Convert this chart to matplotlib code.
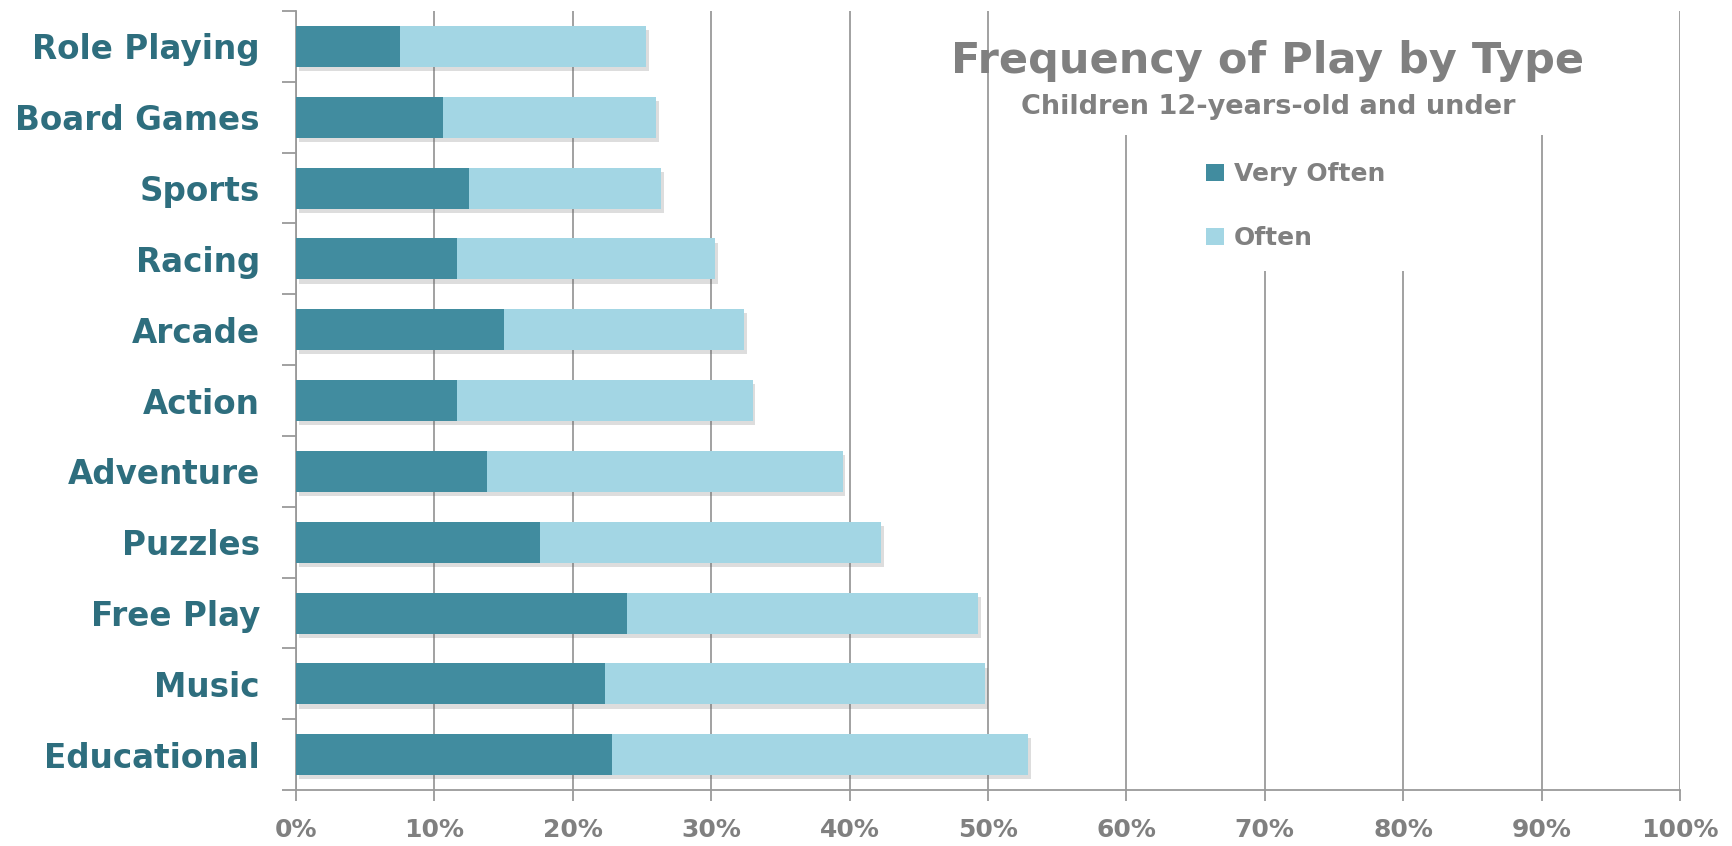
import numpy as np
import matplotlib.pyplot as plt
import matplotlib.patheffects as pe
from matplotlib.ticker import FixedLocator, PercentFormatter

# categories listed bottom to top
categories = ["Educational", "Music", "Free Play", "Puzzles", "Adventure", "Action",
              "Arcade", "Racing", "Sports", "Board Games", "Role Playing"]
very_often = [22.8, 22.3, 23.9, 17.6, 13.8, 11.6, 15.0, 11.6, 12.5, 10.6, 7.5]
total = [52.9, 49.8, 49.3, 42.3, 39.5, 33.0, 32.4, 30.3, 26.4, 26.0, 25.3]
often = [t - v for t, v in zip(total, very_often)]
series_names = ["Very Often", "Often"]

dark = "#418C9F"
light = "#A3D6E4"
label_teal = "#2E6E7E"
grey_txt = "#808080"
grid_c = "#9A9A9A"

plt.rcParams['font.family'] = ['DejaVu Sans']

fig = plt.figure(figsize=(17.33, 8.46), dpi=100)
ax = fig.add_axes([0.1708, 0.066, 0.7986, 0.921])

y = np.arange(len(categories))
shadow = [pe.SimplePatchShadow(offset=(2, -3), shadow_rgbFace="#666666", alpha=0.22), pe.Normal()]
b1 = ax.barh(y, very_often, height=0.58, color=dark, label=series_names[0], zorder=3)
b2 = ax.barh(y, often, left=very_often, height=0.58, color=light, label=series_names[1], zorder=3)
for bar in list(b1) + list(b2):
    bar.set_path_effects(shadow)

ax.set_xlim(0, 100)
ax.set_ylim(-0.5, len(categories) - 0.5)
ax.xaxis.set_major_locator(FixedLocator(np.arange(0, 101, 10)))
ax.xaxis.set_major_formatter(PercentFormatter(decimals=0))
ax.grid(axis='x', color=grid_c, linewidth=1.3, zorder=0)

ax.set_yticks(y)
ax.set_yticklabels(categories)
ax.yaxis.set_minor_locator(FixedLocator(np.arange(-0.5, len(categories), 1)))
ax.tick_params(axis='y', which='major', length=0, pad=26, labelsize=23.5, labelcolor=label_teal)
ax.tick_params(axis='y', which='minor', length=10, width=1.3, color=grid_c)
for t in ax.get_yticklabels():
    t.set_fontweight('bold')
ax.tick_params(axis='x', length=8, width=1.3, color=grid_c, labelsize=18, labelcolor=grey_txt, pad=12)
for t in ax.get_xticklabels():
    t.set_fontweight('bold')

for s in ['top', 'right']:
    ax.spines[s].set_visible(False)
for s in ['left', 'bottom']:
    ax.spines[s].set_color(grid_c)
    ax.spines[s].set_linewidth(1.3)

# white panels behind title and legend hiding the grid
ax.add_patch(plt.Rectangle((0.574, 0.84), 0.32, 0.16, transform=fig.transFigure,
                           facecolor='white', edgecolor='none', zorder=2))
ax.add_patch(plt.Rectangle((0.70, 0.68), 0.13, 0.17, transform=fig.transFigure,
                           facecolor='white', edgecolor='none', zorder=2))

fig.text(0.7317, 0.928, "Frequency of Play by Type", ha='center', va='center',
         fontsize=31, fontweight='bold', color=grey_txt, zorder=5)
fig.text(0.7317, 0.874, "Children 12-years-old and under", ha='center', va='center',
         fontsize=19.5, fontweight='bold', color=grey_txt, zorder=5)

leg = fig.legend(handles=[b1, b2], loc='upper left', bbox_to_anchor=(0.683, 0.835),
                 frameon=False, fontsize=18, labelspacing=1.6, handlelength=0.7,
                 handleheight=0.7, handletextpad=0.4)
for t in leg.get_texts():
    t.set_color(grey_txt)
    t.set_fontweight('bold')
for h in leg.legend_handles:
    h.set_path_effects([])

fig.savefig("out.png", dpi=100)
